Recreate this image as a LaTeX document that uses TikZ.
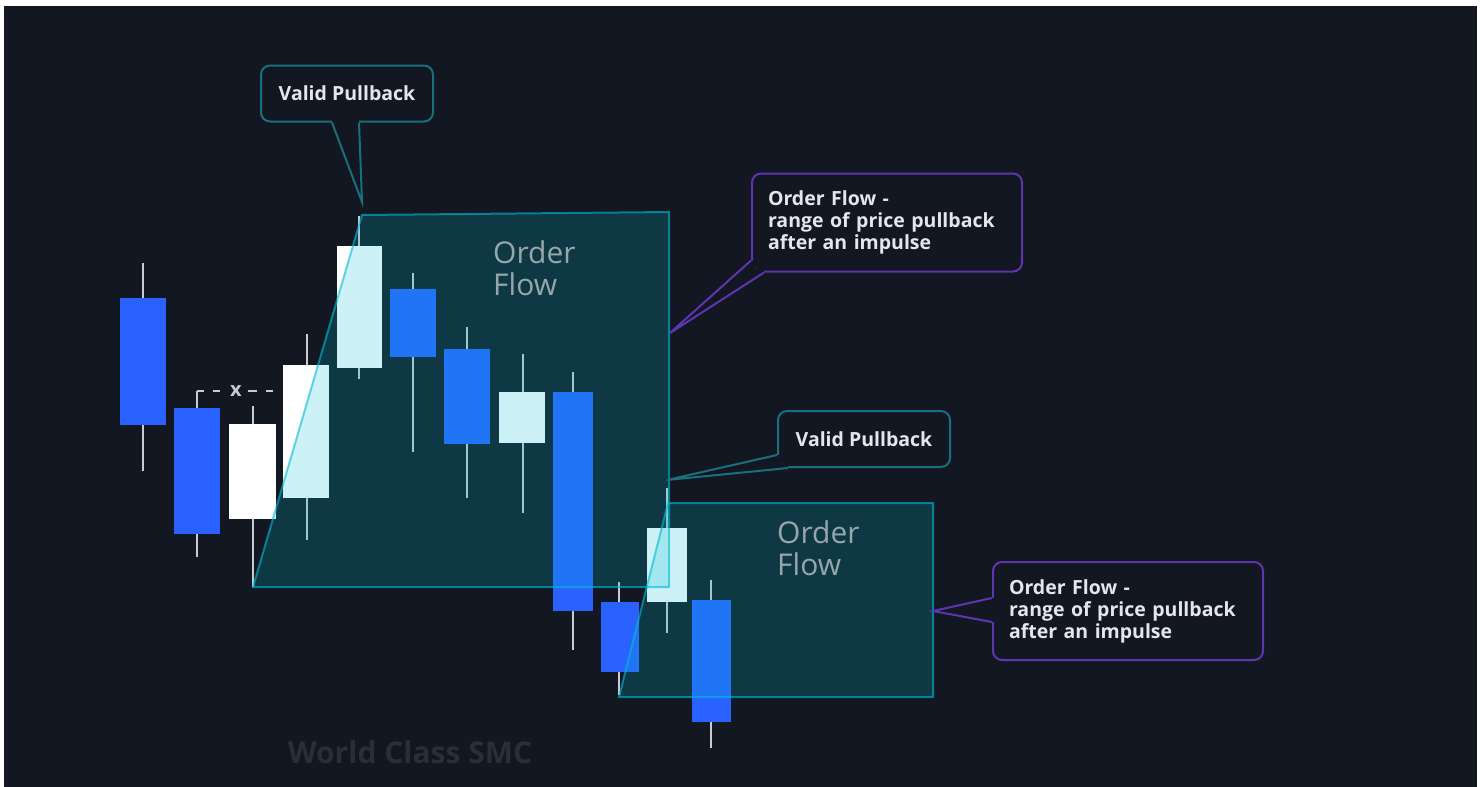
\documentclass[tikz,border=0pt]{standalone}
\usepackage{fontspec}
\setmainfont{Open Sans}
\definecolor{chartbg}{RGB}{19,23,34}
\definecolor{bearblue}{RGB}{41,98,255}
\definecolor{bullwhite}{RGB}{255,255,255}
\definecolor{wickgray}{RGB}{200,203,208}
\definecolor{ofcyan}{RGB}{0,188,212}
\definecolor{vpteal}{RGB}{24,112,124}
\definecolor{ofpurple}{RGB}{94,53,177}
\definecolor{notewhite}{RGB}{228,230,235}
\definecolor{ofgray}{RGB}{150,166,170}
\definecolor{wmgray}{RGB}{42,46,57}

\begin{document}
\begin{tikzpicture}[x=1pt, y=-1pt,
    wick/.style={draw=wickgray, line width=1.8pt},
    bear/.style={fill=bearblue},
    bull/.style={fill=bullwhite},
    ofzone/.style={fill=ofcyan, fill opacity=0.2, draw=ofcyan, draw opacity=0.6, line width=2pt},
    oflabel/.style={text=ofgray, font=\fontsize{30}{32}\selectfont, align=left, inner sep=0pt},
    vpbox/.style={draw=vpteal, line width=2pt, rounded corners=9pt, fill=chartbg, text=notewhite, font=\fontsize{19.5}{22}\selectfont\bfseries, minimum width=172pt, minimum height=56pt},
    vptail/.style={draw=vpteal, line width=2pt},
    ofbox/.style={draw=ofpurple, line width=2pt, rounded corners=9pt, fill=chartbg, text=notewhite, font=\fontsize{19.5}{22}\selectfont\bfseries, minimum width=270pt, minimum height=98pt, text width=238pt, inner xsep=16pt, align=left},
    oftail/.style={draw=ofpurple, line width=2pt}]
    \useasboundingbox (0,0) rectangle (1483,787);
    \fill[white] (0,0) rectangle (1483,787);
    \fill[chartbg] (4,6) rectangle (1477,787);

    % candles
    \draw[wick] (143,263) -- (143,471);
    \fill[bear] (120,298) rectangle (166,425);
    \draw[wick] (197,391) -- (197,557);
    \fill[bear] (174,408) rectangle (220,534);
    \draw[wick] (253,406) -- (253,587);
    \fill[bull] (229,424) rectangle (276,519);
    \draw[wick] (307,334) -- (307,540);
    \fill[bull] (283,365) rectangle (329,498);
    \draw[wick] (359,216) -- (359,379);
    \fill[bull] (337,246) rectangle (382,368);
    \draw[wick] (413,273) -- (413,452);
    \fill[bear] (390,289) rectangle (436,357);
    \draw[wick] (467,327) -- (467,498);
    \fill[bear] (444,349) rectangle (490,444);
    \draw[wick] (523,354) -- (523,513);
    \fill[bull] (499,392) rectangle (545,443);
    \draw[wick] (573,372) -- (573,650);
    \fill[bear] (553,392) rectangle (593,611);
    \draw[wick] (619,582) -- (619,695);
    \fill[bear] (601,602) rectangle (639,672);
    \draw[wick] (667,488) -- (667,633);
    \fill[bull] (647,528) rectangle (687,602);
    \draw[wick] (711,580) -- (711,748);
    \fill[bear] (692,600) rectangle (731,722);

    % x between the two highs
    \coordinate (c2high) at (197,391);
    \coordinate (xend) at (273,391);
    \node[text=wickgray, font=\fontsize{20}{20}\selectfont\bfseries, inner sep=6pt] (xmark) at (236,391) {x};
    \draw[wick, dash pattern=on 7pt off 9pt] (c2high) -- (xmark);
    \draw[wick, dash pattern=on 9pt off 9pt] (xmark) -- (xend);

    % order flow zones
    \path[ofzone] (253,587) -- (362,215) -- (669,212) -- (669,587) -- cycle;
    \path[ofzone] (619,697) -- (668,503) -- (933,503) -- (933,697) -- cycle;
    \node[oflabel, anchor=base west] (of1label) at (493,295) {Order\\Flow};
    \node[oflabel, anchor=base west] (of2label) at (777,575) {Order\\Flow};

    % callouts
    \node[vpbox] (vp1) at (347,93.5) {Valid Pullback};
    \coordinate (vp1tip) at (362,202);
    \fill[chartbg] ([shift={(-15,-3)}]vp1.south) -- ([shift={(-15,0)}]vp1.south) -- (vp1tip) -- ([shift={(12,0)}]vp1.south) -- ([shift={(12,-3)}]vp1.south) -- cycle;
    \draw[vptail] ([shift={(-15,0)}]vp1.south) -- (vp1tip) -- ([shift={(12,0)}]vp1.south);

    \node[vpbox] (vp2) at (864,439) {Valid Pullback};
    \coordinate (vp2tip) at (667,480);
    \fill[chartbg] ([shift={(4,-13)}]vp2.south west) -- ([shift={(0,-13)}]vp2.south west) -- (vp2tip) -- ([shift={(11,0)}]vp2.south west) -- ([shift={(11,-4)}]vp2.south west) -- ([shift={(4,-4)}]vp2.south west) -- cycle;
    \draw[vptail] ([shift={(0,-13)}]vp2.south west) -- (vp2tip) -- ([shift={(11,0)}]vp2.south west);

    \node[ofbox] (of1note) at (887,222.5) {Order Flow -\\range of price pullback\\after an impulse};
    \coordinate (of1tip) at (670,333);
    \fill[chartbg] ([shift={(4,-12)}]of1note.south west) -- ([shift={(0,-12)}]of1note.south west) -- (of1tip) -- ([shift={(13,0)}]of1note.south west) -- ([shift={(13,-4)}]of1note.south west) -- ([shift={(4,-4)}]of1note.south west) -- cycle;
    \draw[oftail] ([shift={(0,-12)}]of1note.south west) -- (of1tip) -- ([shift={(13,0)}]of1note.south west);

    \node[ofbox] (of2note) at (1128,611) {Order Flow -\\range of price pullback\\after an impulse};
    \coordinate (of2tip) at (933,611);
    \fill[chartbg] ([shift={(3,-13)}]of2note.west) -- ([shift={(0,-13)}]of2note.west) -- (of2tip) -- ([shift={(0,11)}]of2note.west) -- ([shift={(3,11)}]of2note.west) -- cycle;
    \draw[oftail] ([shift={(0,-13)}]of2note.west) -- (of2tip) -- ([shift={(0,11)}]of2note.west);

    \node[text=wmgray, font=\fontsize{30}{32}\selectfont\bfseries, anchor=base] (wmark) at (410,763) {World Class SMC};
\end{tikzpicture}
\end{document}
